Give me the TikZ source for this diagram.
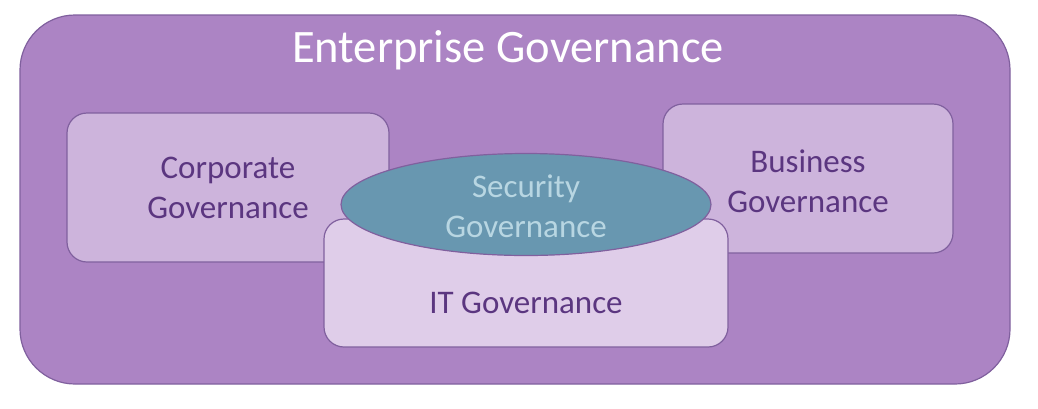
\documentclass[tikz,border=0pt]{standalone}
\usepackage{fontspec}
\setmainfont{Carlito}
\usetikzlibrary{shapes.geometric}
\definecolor{outerfill}{HTML}{AC84C4}
\definecolor{edgecol}{HTML}{80609E}
\definecolor{boxfill}{HTML}{CDB4DC}
\definecolor{itfill}{HTML}{DFCDE9}
\definecolor{secfill}{HTML}{6897B0}
\definecolor{sectext}{HTML}{B8D6E2}
\definecolor{labtext}{HTML}{5B3680}
\tikzset{
  govbox/.style={draw=edgecol, line width=1.2pt, fill=boxfill, rounded corners=20pt, inner sep=0pt},
  govtext/.style={text=labtext, align=center, font=\fontsize{33}{40}\selectfont}
}
\begin{document}
\begin{tikzpicture}[x=1pt, y=-1pt]
\useasboundingbox (0,0) rectangle (1038,408);
\node[draw=edgecol, line width=1.2pt, fill=outerfill, rounded corners=55pt, minimum width=990pt, minimum height=369pt] (enterprise) at (515,199.5) {};
\node[text=white, font=\fontsize{46.5}{54}\selectfont] (title) at (508,50) {Enterprise Governance};
\node[govbox, minimum width=322pt, minimum height=149pt] (corporate) at (228,187.5) {};
\node[govtext] (corptext) at (228,188) {Corporate\\Governance};
\node[govbox, minimum width=290pt, minimum height=149pt] (business) at (808,178.5) {};
\node[govtext] (bustext) at (808,181) {Business\\Governance};
\node[govbox, fill=itfill, minimum width=404pt, minimum height=128pt] (it) at (526,283) {};
\node[govtext] (ittext) at (526,303) {IT Governance};
\node[ellipse, draw=edgecol, line width=1.2pt, fill=secfill, minimum width=370pt, minimum height=102pt, inner sep=0pt] (security) at (526,204.5) {};
\node[govtext, text=sectext] (sectext) at (526,206) {Security\\Governance};
\end{tikzpicture}
\end{document}
